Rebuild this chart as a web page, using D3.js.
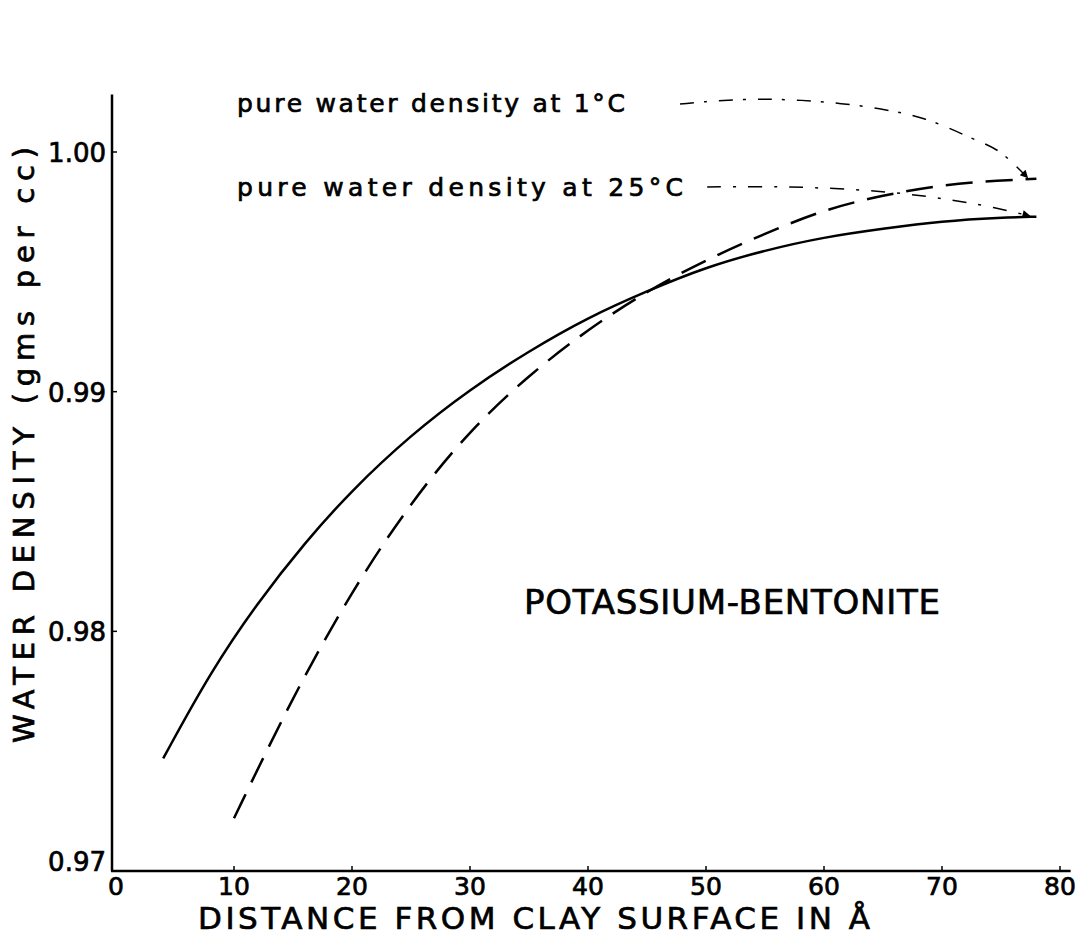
<!DOCTYPE html>
<html>
<head>
<meta charset="utf-8">
<script src="https://cdn.jsdelivr.net/npm/d3@7"></script>
<style>
  body { margin: 0; background: #fff; }
  text { font-family: "DejaVu Sans", sans-serif; fill: #000; stroke: #000; stroke-width: 0.7; }
</style>
</head>
<body>
<div id="chart-container"></div>
<script>
// chart data
const xTicks = [0, 10, 20, 30, 40, 50, 60, 70, 80];
const yTicks = [0.97, 0.98, 0.99, 1.00];
const yTickLabels = ["0.97", "0.98", "0.99", "1.00"];

// solid curve
const solidX = [4, 8, 12, 16, 20, 25, 30, 35, 40, 45, 50, 55, 60, 65, 70, 75, 78];
const solidY = [0.9747, 0.9783, 0.9812, 0.9837, 0.9859, 0.9882, 0.9901, 0.9917, 0.9931, 0.9942, 0.9952, 0.9959, 0.99645, 0.9968, 0.99712, 0.99727, 0.9973];

// dashed curve
const dashX = [10, 15, 20, 25, 30, 35, 40, 45, 50, 55, 60, 65, 70, 75, 78];
const dashY = [0.9722, 0.9773, 0.9817, 0.9854, 0.9884, 0.9907, 0.9926, 0.9942, 0.9955, 0.9966, 0.9976, 0.9982, 0.99863, 0.99882, 0.99888];

// annotation arrows (data units)
const arrow1X = [47.8, 50, 54.7, 59.7, 64.7, 68.4, 72.4, 74.9, 77.3];
const arrow1Y = [1.0020, 1.0021, 1.0022, 1.0021, 1.0018, 1.0014, 1.0006, 1.0000, 0.9989];
const arrow25X = [50.1, 57.1, 65.3, 72.4, 77.5];
const arrow25Y = [0.99854, 0.99854, 0.99833, 0.99787, 0.99733];

const svgWidth = 1079;
const svgHeight = 944;

const svg = d3.select("#chart-container")
    .append("svg")
    .attr("width", svgWidth)
    .attr("height", svgHeight);

const x = d3.scaleLinear().domain([0, 80]).range([116, 1060]);
const y = d3.scaleLinear().domain([0.97, 1.00]).range([871, 152]);

// arrow head marker
svg.append("defs").append("marker")
    .attr("id", "head")
    .attr("viewBox", "0 0 10 10")
    .attr("refX", 10)
    .attr("refY", 5)
    .attr("markerWidth", 22)
    .attr("markerHeight", 8)
    .attr("markerUnits", "userSpaceOnUse")
    .attr("orient", "auto")
    .append("path")
    .attr("d", "M0,0 L10,5 L0,10 Z")
    .attr("fill", "#000");

// axes lines
svg.append("line")
    .attr("x1", 112).attr("x2", 112)
    .attr("y1", y(0.97)).attr("y2", y(1.0024))
    .attr("stroke", "#000").attr("stroke-width", 2.5);
svg.append("line")
    .attr("x1", 111).attr("x2", x(80.9))
    .attr("y1", y(0.97)).attr("y2", y(0.97))
    .attr("stroke", "#000").attr("stroke-width", 2.5);

// small ticks
svg.append("g").selectAll("line")
    .data(xTicks.slice(1))
    .join("line")
    .attr("x1", d => x(d)).attr("x2", d => x(d))
    .attr("y1", y(0.97)).attr("y2", y(0.97) - 5)
    .attr("stroke", "#000").attr("stroke-width", 1.5);
svg.append("g").selectAll("line")
    .data(yTicks.slice(1))
    .join("line")
    .attr("x1", 112).attr("x2", 117)
    .attr("y1", d => y(d)).attr("y2", d => y(d))
    .attr("stroke", "#000").attr("stroke-width", 1.5);

// tick labels
svg.append("g").selectAll("text")
    .data(xTicks)
    .join("text")
    .attr("x", d => x(d))
    .attr("y", y(0.97) + 24)
    .attr("text-anchor", "middle")
    .attr("font-size", 25)
    .text(d => d);
svg.append("g").selectAll("text")
    .data(yTicks)
    .join("text")
    .attr("x", 106)
    .attr("y", (d, i) => y(d) + (i == 0 ? 0 : 10))
    .attr("text-anchor", "end")
    .attr("font-size", 26)
    .text((d, i) => yTickLabels[i]);

// axis titles
svg.append("text")
    .attr("x", 534)
    .attr("y", 929)
    .attr("text-anchor", "middle")
    .attr("font-size", 31)
    .attr("textLength", 672)
    .attr("lengthAdjust", "spacing")
    .text("DISTANCE FROM CLAY SURFACE IN  Å");

svg.append("text")
    .attr("transform", "translate(34,445) rotate(-90)")
    .attr("text-anchor", "middle")
    .attr("font-size", 29)
    .attr("textLength", 596)
    .attr("lengthAdjust", "spacing")
    .text("WATER DENSITY (gms per cc)");

// curves - basis keeps them smooth like the hand drawn ones
const line = d3.line()
    .x(d => x(d[0]))
    .y(d => y(d[1]))
    .curve(d3.curveBasis);

svg.append("path")
    .attr("d", line(d3.zip(solidX, solidY)))
    .attr("fill", "none")
    .attr("stroke", "#000")
    .attr("stroke-width", 2.5);

svg.append("path")
    .attr("d", line(d3.zip(dashX, dashY)))
    .attr("fill", "none")
    .attr("stroke", "#000")
    .attr("stroke-width", 2.5)
    .attr("stroke-dasharray", "27,13");

// annotation arrows
const arrowLine = d3.line()
    .x(d => x(d[0]))
    .y(d => y(d[1]))
    .curve(d3.curveCatmullRom);

svg.append("path")
    .attr("d", arrowLine(d3.zip(arrow1X, arrow1Y)))
    .attr("fill", "none")
    .attr("stroke", "#000")
    .attr("stroke-width", 1.5)
    .attr("stroke-dasharray", "14,10,3,12")
    .attr("marker-end", "url(#head)");

svg.append("path")
    .attr("d", arrowLine(d3.zip(arrow25X, arrow25Y)))
    .attr("fill", "none")
    .attr("stroke", "#000")
    .attr("stroke-width", 1.5)
    .attr("stroke-dasharray", "14,12,3,12")
    .attr("marker-end", "url(#head)");

// labels
svg.append("text")
    .attr("x", 237).attr("y", 112)
    .attr("font-size", 25)
    .attr("textLength", 388)
    .attr("lengthAdjust", "spacing")
    .text("pure water density at 1°C");

svg.append("text")
    .attr("x", 237).attr("y", 196)
    .attr("font-size", 25)
    .attr("textLength", 446)
    .attr("lengthAdjust", "spacing")
    .text("pure water density at 25°C");

svg.append("text")
    .attr("x", 524).attr("y", 614)
    .attr("font-size", 34)
    .attr("textLength", 416)
    .attr("lengthAdjust", "spacing")
    .text("POTASSIUM-BENTONITE");
</script>
</body>
</html>
